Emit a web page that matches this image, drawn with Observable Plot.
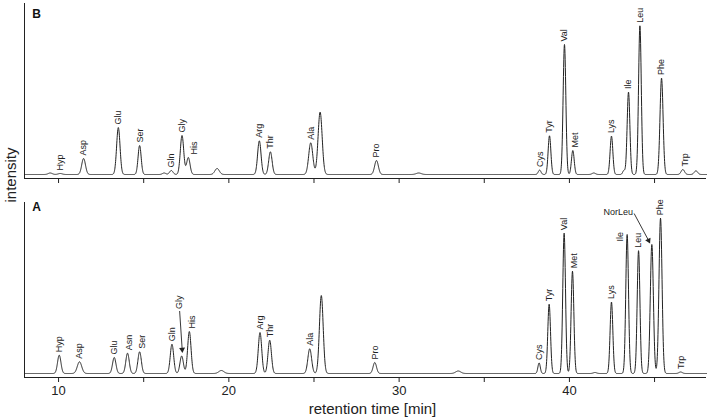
<!DOCTYPE html>
<html><head><meta charset="utf-8">
<script src="https://cdn.jsdelivr.net/npm/d3@7"></script>
<script src="https://cdn.jsdelivr.net/npm/@observablehq/plot@0.6"></script>
<style>
body{margin:0;background:#fff;}
#chart{position:relative;width:708px;height:418px;font-family:"Liberation Sans",Arial,sans-serif;background:#fff;}
#chart svg{display:block;}
#ylab{position:absolute;left:10px;top:175px;transform:translate(-50%,-50%) rotate(-90deg);font-size:15px;color:#222;white-space:nowrap;line-height:1;}
</style></head><body>
<div id="chart"><div id="top"></div><div id="bottom"></div><div id="ylab">intensity</div></div>
<script>
// ---- data ----
const xTicks = [10, 15, 20, 25, 30, 35, 40, 45];
const xTickLabels = [10, 20, 30, 40];
const xDomain = [8, 48.05];
const yDomain = [-4, 171];

// Panel B
const bNames  = ["", "Hyp", "Asp", "Glu", "Ser", "", "Gln", "Gly", "His", "", "Arg", "Thr", "Ala", "", "Pro", "", "Cys", "Tyr", "Val", "Met", "", "Lys", "", "Ile", "Leu", "Phe", "Trp", ""];
const bRT     = [9.51, 10.1, 11.47, 13.51, 14.76, 16.2, 16.62, 17.25, 17.62, 19.31, 21.79, 22.44, 24.81, 25.36, 28.67, 31.15, 38.25, 38.83, 39.71, 40.2, 41.43, 42.47, 43.2, 43.47, 44.14, 45.41, 46.66, 47.43];
const bHeight = [1.5, 1, 16, 47, 29, 1.5, 4, 39, 17, 6, 33.7, 22.7, 31.7, 62.4, 14, 1.5, 4.4, 38.7, 130, 24, 1.5, 38.4, 4, 82.4, 148.7, 96.4, 5, 3.7];
const bWidth  = [0.12, 0.12, 0.11, 0.1, 0.09, 0.1, 0.1, 0.1, 0.1, 0.13, 0.1, 0.1, 0.12, 0.12, 0.11, 0.15, 0.08, 0.08, 0.08, 0.08, 0.1, 0.08, 0.07, 0.08, 0.08, 0.09, 0.1, 0.1];

// Panel A
const aNames  = ["Hyp", "Asp", "Glu", "Asn", "Ser", "Gln", "Gly", "His", "", "Arg", "Thr", "Ala", "", "Pro", "", "Cys", "Tyr", "Val", "Met", "", "Lys", "Ile", "Leu", "NorLeu", "Phe", "Trp"];
const aRT     = [10.04, 11.23, 13.27, 14.05, 14.76, 16.66, 17.23, 17.68, 19.56, 21.83, 22.40, 24.75, 25.43, 28.57, 33.47, 38.22, 38.81, 39.69, 40.18, 41.5, 42.47, 43.39, 44.06, 44.84, 45.35, 46.53];
const aHeight = [18.3, 11.7, 16, 20.3, 21.7, 29.3, 17.5, 42, 3, 41, 33.3, 24.7, 78, 11, 2.5, 10.6, 69.3, 140.3, 102.3, 1, 71.5, 139, 122.8, 129, 155.3, 1.5];
const aWidth  = [0.1, 0.13, 0.1, 0.1, 0.1, 0.1, 0.1, 0.1, 0.15, 0.1, 0.1, 0.11, 0.11, 0.1, 0.15, 0.07, 0.08, 0.08, 0.08, 0.1, 0.08, 0.08, 0.08, 0.09, 0.09, 0.1];

// ---- layout (pixel nudges for labels) ----
const labelShiftB = {His: [6, -3], Met: [2, -3], Trp: [2, -3]};
const labelShiftA = {His: [3, -3], Met: [2, -3], Asn: [2, -3], Ser: [2, -3], Ile: [-7, 7]};
const INK = "#222";

function peaksOf(names, rt, height, width) {
  return names.map((n, i) => ({name: n, rt: rt[i], h: height[i], w: width[i]}));
}
function traceOf(peaks) {
  const pts = [];
  const step = 0.01;
  const n = Math.round((xDomain[1] - xDomain[0]) / step);
  for (let i = 0; i <= n; i++) {
    const t = xDomain[0] + i * step;
    let v = 0;
    for (const p of peaks) v += p.h * Math.exp(-((t - p.rt) ** 2) / (2 * p.w * p.w));
    pts.push({t, v});
  }
  return pts;
}

function labelMarks(peaks, shifts, skip) {
  const lab = peaks.filter(p => p.name && !skip.includes(p.name));
  const groups = d3.group(lab, p => (shifts[p.name] || [0, -3]).join(","));
  const marks = [];
  for (const [key, arr] of groups) {
    const [dx, dy] = key.split(",").map(Number);
    marks.push(Plot.text(arr, {x: "rt", y: "h", text: "name", rotate: -90, textAnchor: "start",
      lineAnchor: "middle", dx, dy, fontSize: 9, fill: INK}));
  }
  return marks;
}

function panel({peaks, letter, letterDy, height, marginTop, marginBottom, showTickLabels, shifts, skip, extra}) {
  return Plot.plot({
    width: 708, height, marginLeft: 24, marginRight: 2, marginTop, marginBottom,
    style: {fontFamily: '"Liberation Sans", Arial, sans-serif', fontSize: "13px", color: INK, background: "white"},
    x: {domain: xDomain},
    y: {domain: yDomain, axis: null},
    marks: [
      Plot.ruleX([xDomain[0]], {stroke: INK, strokeWidth: 1}),
      Plot.ruleY([yDomain[0]], {stroke: INK, strokeWidth: 1}),
      Plot.axisX({ticks: xTicks, tickSize: 5, tickPadding: 3, stroke: INK, label: null,
        tickFormat: d => (showTickLabels && xTickLabels.includes(d)) ? String(d) : ""}),
      Plot.line(traceOf(peaks), {x: "t", y: "v", stroke: INK, strokeWidth: 1}),
      ...labelMarks(peaks, shifts, skip),
      Plot.text([letter], {frameAnchor: "top-left", dx: 12, dy: letterDy, lineAnchor: "middle", fontWeight: "bold", fontSize: 12, fill: "#111", textAnchor: "middle"}),
      ...(extra || [])
    ]
  });
}

const peaksB = peaksOf(bNames, bRT, bHeight, bWidth);
const peaksA = peaksOf(aNames, aRT, aHeight, aWidth);

const gly = peaksA.find(p => p.name === "Gly");
const nor = peaksA.find(p => p.name === "NorLeu");
const callA = [
  {x1: gly.rt - 0.12, y1: gly.h + 45, x2: gly.rt + 0.03, y2: gly.h + 6.5, lx: gly.rt - 0.14, ly: gly.h + 47, rot: 176, name: "Gly"},
  {x1: nor.rt - 1.04, y1: nor.h + 31, x2: nor.rt - 0.19, y2: nor.h + 4, lx: nor.rt - 1.04, ly: nor.h + 31, rot: 154, name: "NorLeu"}
];
const extraA = [
  Plot.link(callA, {x1: "x1", y1: "y1", x2: "x2", y2: "y2", stroke: INK, strokeWidth: 0.9}),
  Plot.dot(callA, {x: "x2", y: "y2", symbol: "triangle", r: 2.2, fill: INK, stroke: "none", rotate: "rot"}),
  Plot.text([callA[0]], {x: "lx", y: "ly", text: "name", rotate: -90, textAnchor: "start", lineAnchor: "middle", fontSize: 9, fill: INK}),
  Plot.text([callA[1]], {x: "lx", y: "ly", text: "name", textAnchor: "end", lineAnchor: "middle", dx: -1, dy: -1, fontSize: 9, fill: INK})
];

const topPlot = panel({peaks: peaksB, letter: "B", letterDy: 11, height: 186, marginTop: 3, marginBottom: 8,
  showTickLabels: false, shifts: labelShiftB, skip: []});
const botPlot = panel({peaks: peaksA, letter: "A", letterDy: 5, height: 232, marginTop: 16, marginBottom: 41,
  showTickLabels: true, shifts: labelShiftA, skip: ["Gly", "NorLeu"],
  extra: [...extraA,
    Plot.text(["retention time [min]"], {frameAnchor: "bottom", dx: 7, dy: 32, lineAnchor: "middle", fontSize: 15, fill: INK})]});

document.getElementById("top").appendChild(topPlot);
document.getElementById("bottom").appendChild(botPlot);
</script>
</body></html>
